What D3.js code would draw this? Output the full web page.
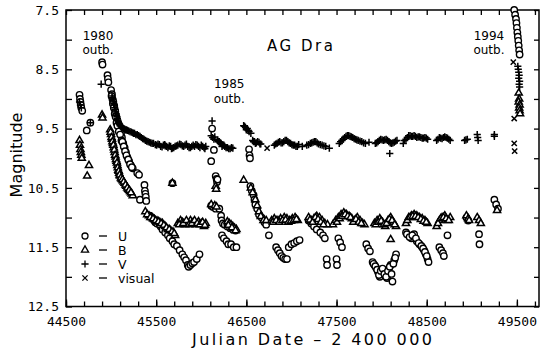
<!DOCTYPE html>
<html>
<head>
<meta charset="utf-8">
<script src="https://cdn.jsdelivr.net/npm/d3@7"></script>
<style>
  body { margin: 0; background: #fff; }
  text { font-family: "DejaVu Sans", sans-serif; fill: #000; }
</style>
</head>
<body>
<div id="chart"></div>
<script>
// light curve of AG Dra, [JD - 2400000, magnitude]
const U = [
  [44650, 8.93], [44655, 9.0], [44660, 9.05], [44665, 9.1], [44670, 9.15], [44680, 9.2],
  [44730, 9.53], [44770, 9.4],
  [44900, 8.38], [44905, 8.42], [44960, 8.6], [44965, 8.66], [44970, 8.72],
  [45000, 8.85], [45010, 8.92], [45015, 9.0], [45025, 9.05], [45035, 9.12], [45045, 9.2],
  [45055, 9.28], [45065, 9.35], [45080, 9.42], [45095, 9.5], [45110, 9.58], [45120, 9.65],
  [45135, 9.75], [45150, 9.82], [45165, 9.9], [45180, 9.98], [45200, 10.05], [45220, 10.12],
  [45240, 10.17], [45290, 10.25], [45310, 10.28],
  [45005, 8.95], [45020, 9.08], [45030, 9.15], [45040, 9.25], [45050, 9.3], [45060, 9.4],
  [45070, 9.45], [45085, 9.55], [45100, 9.6], [45115, 9.7], [45125, 9.72], [45140, 9.8],
  [45155, 9.88], [45170, 9.95], [45190, 10.02], [45210, 10.1], [45230, 10.15],
  [45320, 10.7], [45370, 10.45], [45375, 10.55], [45380, 10.6], [45385, 10.65], [45390, 10.72],
  [45430, 10.97], [45460, 11.02], [45490, 11.08], [45520, 11.1], [45550, 11.15], [45580, 11.18],
  [45610, 11.22], [45640, 11.27], [45660, 11.33],
  [45450, 11.0], [45480, 11.05], [45510, 11.1], [45540, 11.12], [45570, 11.2], [45600, 11.25],
  [45630, 11.3], [45650, 11.35], [45680, 11.4], [45700, 11.45], [45730, 11.48], [45760, 11.55],
  [45790, 11.62], [45810, 11.67], [45830, 11.72], [45850, 11.8], [45860, 11.83], [45880, 11.8],
  [45900, 11.77], [45920, 11.75], [45950, 11.7], [45980, 11.62], [45680, 10.42],
  [46110, 10.05], [46120, 9.5], [46140, 9.86], [46160, 10.3], [46170, 10.35], [46175, 10.4], [46180, 10.36],
  [46110, 10.8], [46130, 10.82], [46160, 10.85], [46200, 10.85], [46220, 10.97], [46225, 11.05],
  [46240, 11.1], [46260, 11.12], [46290, 11.15], [46320, 11.18], [46350, 11.2], [46380, 11.22],
  [46230, 11.3], [46250, 11.35], [46280, 11.4], [46300, 11.45], [46330, 11.45], [46360, 11.5], [46390, 11.5],
  [46530, 9.85], [46535, 9.95], [46540, 10.0],
  [46545, 10.47], [46560, 10.55], [46580, 10.62], [46590, 10.7], [46600, 10.78], [46620, 10.85],
  [46640, 10.95], [46670, 11.0], [46700, 11.08], [46720, 11.12], [46750, 11.3],
  [46830, 11.5], [46850, 11.55], [46870, 11.6], [46890, 11.65], [46910, 11.68], [46930, 11.7], [46950, 11.7],
  [46970, 11.5], [47000, 11.45], [47030, 11.43], [47060, 11.4], [47090, 11.38],
  [47190, 11.05], [47220, 11.1], [47250, 11.15], [47280, 11.2], [47320, 11.25], [47350, 11.3], [47370, 11.35],
  [47390, 11.7], [47395, 11.8], [47500, 11.7], [47505, 11.8],
  [47520, 11.35], [47540, 11.42], [47560, 11.5],
  [47830, 11.45], [47850, 11.52], [47870, 11.57],
  [47900, 11.75], [47920, 11.8], [47940, 11.85], [47960, 11.92], [47980, 12.0], [48000, 11.93],
  [48020, 11.88], [48040, 11.96], [48060, 12.02], [48080, 11.86], [48100, 11.8], [48120, 12.08],
  [48140, 11.72], [48160, 11.62],
  [47910, 11.78], [47930, 11.82], [47950, 11.88], [47970, 11.97], [47990, 11.9], [48010, 11.86],
  [48030, 11.95], [48050, 12.0], [48070, 11.9], [48090, 11.83], [48110, 11.95], [48130, 11.78], [48150, 11.68],
  [48270, 11.25], [48300, 11.3], [48330, 11.35], [48360, 11.28], [48390, 11.4], [48420, 11.45],
  [48450, 11.5], [48470, 11.55], [48490, 11.62], [48510, 11.7], [48520, 11.75],
  [48280, 11.28], [48310, 11.33], [48340, 11.3], [48380, 11.35], [48410, 11.43], [48440, 11.48],
  [48460, 11.52], [48480, 11.58], [48500, 11.65],
  [48640, 11.5], [48660, 11.55], [48680, 11.6], [48690, 11.65], [48730, 11.3],
  [48940, 11.0], [48960, 11.05], [49080, 11.28], [49085, 11.45],
  [49250, 10.7], [49270, 10.78], [49290, 10.85],
  [49470, 7.5], [49480, 7.58], [49490, 7.65], [49495, 7.72], [49500, 7.8], [49505, 7.88],
  [49510, 7.95], [49515, 8.02], [49520, 8.1], [49525, 8.18], [49530, 8.25]
];

const B = [
  [44650, 9.7], [44655, 9.78], [44660, 9.85], [44665, 9.9], [44670, 9.95], [44675, 10.0],
  [44735, 10.3], [44755, 10.12], [44900, 9.27], [44905, 9.32],
  [44990, 9.52], [45000, 9.6], [45010, 9.68], [45020, 9.75], [45030, 9.82], [45040, 9.9],
  [45050, 9.98], [45060, 10.05], [45070, 10.12], [45080, 10.2], [45090, 10.25], [45100, 10.3],
  [45115, 10.35], [45130, 10.38], [45150, 10.42], [45170, 10.47], [45190, 10.52], [45210, 10.56],
  [45230, 10.6], [45240, 10.63],
  [44995, 9.56], [45005, 9.65], [45015, 9.72], [45025, 9.78], [45035, 9.86], [45045, 9.95],
  [45055, 10.02], [45065, 10.08], [45075, 10.16], [45085, 10.22], [45095, 10.28], [45110, 10.33],
  [45125, 10.36], [45140, 10.4], [45160, 10.45], [45180, 10.5], [45200, 10.54], [45220, 10.58],
  [45380, 10.9], [45420, 10.97], [45450, 11.0], [45480, 11.03], [45510, 11.06], [45540, 11.08],
  [45570, 11.1], [45600, 11.15], [45630, 11.2], [45660, 11.22], [45690, 11.25], [45710, 11.3],
  [45400, 10.95], [45435, 11.0], [45465, 11.02], [45495, 11.05], [45525, 11.07], [45555, 11.1],
  [45585, 11.13], [45615, 11.17], [45645, 11.2], [45675, 11.24], [45700, 11.27],
  [45680, 10.42],
  [45740, 11.1], [45770, 11.05], [45790, 11.08], [45820, 11.12], [45850, 11.1], [45880, 11.05],
  [45910, 11.08], [45940, 11.12], [45970, 11.07], [46000, 11.1], [46030, 11.15], [46050, 11.1],
  [45755, 11.12], [45800, 11.1], [45835, 11.05], [45865, 11.12], [45895, 11.1], [45925, 11.05],
  [45955, 11.1], [45985, 11.12], [46015, 11.08], [46040, 11.13],
  [46160, 10.47], [46165, 10.52], [46110, 10.78], [46150, 10.8], [46170, 10.82],
  [46290, 11.07], [46310, 11.1], [46330, 11.12], [46350, 11.15], [46370, 11.18], [46390, 11.2],
  [46300, 11.13], [46340, 11.17], [46380, 11.22],
  [46470, 10.37], [46550, 10.5], [46570, 10.58], [46600, 10.7], [46620, 10.8], [46640, 10.9],
  [46660, 10.98], [46690, 11.05], [46720, 11.05],
  [46780, 11.05], [46810, 11.02], [46850, 11.05], [46880, 11.02], [46920, 11.0], [46950, 11.02],
  [46980, 11.05], [47010, 11.02], [47040, 11.0], [47070, 11.05],
  [46795, 11.08], [46830, 11.05], [46865, 11.08], [46900, 11.05], [46935, 11.04], [46965, 11.08],
  [46995, 11.06], [47025, 11.05], [47055, 11.03],
  [47190, 11.0], [47220, 11.05], [47250, 11.02], [47280, 10.98], [47310, 11.0], [47340, 11.05],
  [47370, 11.1], [47400, 11.12],
  [47205, 11.04], [47235, 11.08], [47265, 11.0], [47295, 11.03], [47325, 11.08], [47355, 11.12],
  [47460, 11.12], [47490, 11.05], [47520, 11.0], [47550, 10.95], [47580, 10.92], [47610, 10.95],
  [47640, 10.98], [47670, 11.02], [47700, 11.05], [47730, 11.0], [47760, 11.05], [47790, 11.1], [47810, 11.12],
  [47505, 11.08], [47535, 11.02], [47565, 10.98], [47595, 10.95], [47625, 10.98], [47655, 11.0],
  [47685, 11.08], [47715, 11.03], [47745, 11.08], [47775, 11.1],
  [47920, 11.1], [47950, 11.05], [47980, 11.02], [48010, 11.08], [48040, 11.15], [48070, 11.05],
  [48100, 11.0], [48130, 11.08], [48160, 11.15], [48100, 11.37],
  [47935, 11.12], [47965, 11.08], [47995, 11.06], [48025, 11.12], [48055, 11.1], [48085, 11.03],
  [48115, 11.05], [48145, 11.12],
  [48270, 11.1], [48300, 11.0], [48330, 10.97], [48360, 10.95], [48390, 10.97], [48420, 11.0],
  [48450, 11.02], [48480, 11.05], [48510, 11.1],
  [48285, 11.05], [48315, 11.0], [48345, 10.98], [48375, 10.98], [48405, 11.0], [48435, 11.03],
  [48465, 11.06], [48495, 11.08],
  [48610, 11.15], [48640, 11.05], [48670, 11.0], [48700, 10.97], [48730, 11.05], [48760, 11.0],
  [48625, 11.1], [48655, 11.02], [48685, 11.0], [48715, 11.02], [48745, 11.05],
  [48940, 10.97], [48960, 11.02], [48970, 11.05], [49060, 11.0], [49080, 11.05], [49100, 11.1],
  [49280, 10.88],
  [49520, 8.9], [49525, 9.0], [49520, 9.05], [49530, 9.1], [49525, 9.15], [49530, 9.2], [49535, 9.25]
];

const V = [
  [44650, 9.05], [44660, 9.1], [44670, 9.15], [44770, 9.4], [44890, 8.75],
  [45010, 8.95], [45020, 9.0], [45030, 9.08], [45040, 9.15], [45050, 9.22], [45060, 9.28],
  [45070, 9.33], [45080, 9.38], [45090, 9.42], [45100, 9.45], [45120, 9.48], [45140, 9.5],
  [45160, 9.52], [45180, 9.53], [45210, 9.55], [45240, 9.57], [45260, 9.58], [45290, 9.6],
  [45320, 9.63], [45350, 9.67], [45380, 9.7], [45410, 9.72], [45440, 9.74], [45470, 9.75],
  [45490, 9.77], [45520, 9.76], [45550, 9.8], [45580, 9.78], [45600, 9.79], [45630, 9.82],
  [45660, 9.8], [45680, 9.83], [45710, 9.8], [45740, 9.78], [45760, 9.76], [45790, 9.79],
  [45820, 9.78], [45850, 9.8], [45880, 9.82], [45910, 9.78], [45940, 9.77], [45970, 9.8],
  [46000, 9.78], [46030, 9.82], [46050, 9.8],
  [45015, 8.98], [45025, 9.05], [45035, 9.1], [45045, 9.18], [45055, 9.25], [45065, 9.3],
  [45075, 9.36], [45085, 9.4], [45095, 9.43], [45110, 9.47], [45130, 9.49], [45150, 9.51],
  [45170, 9.52], [45195, 9.54], [45225, 9.56], [45250, 9.58], [45275, 9.6], [45305, 9.62],
  [45335, 9.65], [45365, 9.68], [45395, 9.71], [45425, 9.73], [45455, 9.75], [45505, 9.78],
  [45535, 9.77], [45565, 9.81], [45595, 9.77], [45615, 9.8], [45645, 9.79], [45670, 9.84],
  [45695, 9.82], [45725, 9.79], [45775, 9.77], [45805, 9.8], [45835, 9.76], [45865, 9.82],
  [45895, 9.8], [45925, 9.8], [45955, 9.78], [45985, 9.82], [46015, 9.8], [46040, 9.84],
  [46120, 9.37], [46110, 9.62], [46125, 9.65], [46140, 9.68], [46150, 9.64], [46180, 9.7],
  [46200, 9.72], [46220, 9.75], [46240, 9.78], [46260, 9.8], [46290, 9.82], [46320, 9.84], [46350, 9.83],
  [46190, 9.72], [46210, 9.74], [46230, 9.8], [46250, 9.78], [46275, 9.82], [46305, 9.84], [46335, 9.82],
  [46470, 9.45], [46490, 9.48], [46510, 9.5], [46530, 9.55], [46550, 9.58], [46570, 9.7],
  [46590, 9.72], [46610, 9.74], [46640, 9.73], [46660, 9.76],
  [46480, 9.46], [46500, 9.52], [46520, 9.53], [46580, 9.72], [46600, 9.75], [46625, 9.72], [46650, 9.76],
  [46810, 9.78], [46840, 9.75], [46870, 9.72], [46900, 9.74], [46930, 9.7], [46960, 9.72],
  [46990, 9.75], [47020, 9.78], [47050, 9.8], [47080, 9.77],
  [46825, 9.76], [46855, 9.73], [46885, 9.74], [46915, 9.72], [46945, 9.7], [46975, 9.74],
  [47005, 9.77], [47035, 9.78], [47065, 9.8],
  [47120, 9.8], [47170, 9.78], [47210, 9.75], [47240, 9.73], [47270, 9.72], [47300, 9.76],
  [47340, 9.78], [47380, 9.8], [47420, 9.83],
  [47190, 9.77], [47225, 9.74], [47255, 9.72], [47285, 9.74], [47320, 9.77], [47360, 9.79],
  [47530, 9.75], [47560, 9.7], [47590, 9.65], [47620, 9.62], [47650, 9.63], [47680, 9.65],
  [47710, 9.68], [47740, 9.7], [47780, 9.72], [47820, 9.75], [47860, 9.73],
  [47545, 9.72], [47575, 9.68], [47605, 9.63], [47635, 9.62], [47665, 9.64], [47695, 9.67],
  [47725, 9.69], [47760, 9.71], [47800, 9.74],
  [47930, 9.75], [47960, 9.72], [47990, 9.68], [48020, 9.7], [48050, 9.68], [48080, 9.72],
  [48110, 9.75], [48140, 9.73], [48170, 9.7], [48090, 9.92],
  [47945, 9.74], [47975, 9.7], [48005, 9.69], [48035, 9.69], [48065, 9.7], [48095, 9.74],
  [48125, 9.74], [48155, 9.71],
  [48240, 9.75], [48270, 9.68], [48300, 9.62], [48330, 9.63], [48360, 9.62], [48390, 9.65],
  [48420, 9.64], [48450, 9.66], [48480, 9.65], [48510, 9.68],
  [48255, 9.7], [48285, 9.65], [48315, 9.62], [48345, 9.63], [48375, 9.63], [48405, 9.64],
  [48435, 9.65], [48465, 9.66], [48495, 9.66],
  [48610, 9.7], [48640, 9.65], [48670, 9.67], [48700, 9.64], [48730, 9.66], [48760, 9.7],
  [48625, 9.68], [48655, 9.66], [48685, 9.65], [48715, 9.65], [48745, 9.68],
  [48920, 9.7], [48950, 9.68], [48935, 9.69], [49060, 9.6], [49065, 9.65], [49070, 9.7],
  [49250, 9.6], [49250, 9.63],
  [49510, 8.45], [49515, 8.5], [49520, 8.55], [49525, 8.6], [49520, 8.65], [49530, 8.7],
  [49525, 8.75], [49530, 8.8]
];

const VISUAL = [
  [46730, 9.83], [49460, 8.38], [49470, 9.33], [49470, 9.75], [49475, 9.88]
];

const xLabels = [44500, 45500, 46500, 47500, 48500, 49500];
const yLabels = [7.5, 8.5, 9.5, 10.5, 11.5, 12.5];

const notes = [
  { x: 44855, y: 8.0, lines: ["1980", "outb."] },
  { x: 46310, y: 8.82, lines: ["1985", "outb."] },
  { x: 49190, y: 8.0, lines: ["1994", "outb."] }
];

const margin = {top: 10, right: 3, bottom: 43.5, left: 66};
const width = 542 - margin.left - margin.right;
const height = 350 - margin.top - margin.bottom;

const svg = d3.select("#chart").append("svg")
    .attr("width", 542).attr("height", 350);
const g = svg.append("g")
    .attr("transform", "translate(" + margin.left + "," + margin.top + ")");

const x = d3.scaleLinear().domain([44500, 49745]).range([0, width]);
const y = d3.scaleLinear().domain([7.5, 12.5]).range([0, height]);

const xMinor = d3.range(44500, 49746, 200);
const yMinor = d3.range(7.5, 12.51, 0.5);

// frame
g.append("rect").attr("width", width).attr("height", height)
  .attr("fill", "none").attr("stroke", "#000").attr("stroke-width", 1.5);

function tickStyle(sel) {
  sel.select(".domain").remove();
  sel.selectAll(".tick line").attr("stroke", "#000").attr("stroke-width", 1.3);
}

g.append("g").attr("transform", "translate(0," + height + ")")
  .call(d3.axisBottom(x).tickValues(xMinor).tickSize(-5).tickFormat(""))
  .call(tickStyle);
g.append("g")
  .call(d3.axisTop(x).tickValues(xMinor).tickSize(-5).tickFormat(""))
  .call(tickStyle);
g.append("g")
  .call(d3.axisLeft(y).tickValues(yMinor).tickSize(-6).tickFormat(""))
  .call(tickStyle);
g.append("g").attr("transform", "translate(" + width + ",0)")
  .call(d3.axisRight(y).tickValues(yMinor).tickSize(-5).tickFormat(""))
  .call(tickStyle);

// tick labels
g.append("g").attr("transform", "translate(0," + height + ")")
  .call(d3.axisBottom(x).tickValues(xLabels).tickSize(-7).tickPadding(10).tickFormat(d3.format("d")))
  .call(tickStyle)
  .selectAll("text").style("font-size", "13px").style("font-family", "DejaVu Sans Mono, monospace")
  .attr("fill", "#000");
g.append("g")
  .call(d3.axisLeft(y).tickValues(yLabels).tickSize(0).tickPadding(7).tickFormat(d3.format(".1f")))
  .call(tickStyle)
  .selectAll("text").style("font-size", "13px").style("font-family", "DejaVu Sans Mono, monospace")
  .attr("fill", "#000");

// axis titles
svg.append("text").attr("x", 312).attr("y", 345).attr("text-anchor", "middle")
  .attr("textLength", 240).attr("lengthAdjust", "spacing")
  .style("font-size", "16px").text("Julian Date \u2013 2 400 000");
svg.append("text").attr("transform", "translate(22,155) rotate(-90)")
  .attr("text-anchor", "middle").style("font-size", "16px").text("Magnitude");

// title and outburst notes
svg.append("text").attr("x", 300).attr("y", 51).attr("text-anchor", "middle")
  .attr("textLength", 66).attr("lengthAdjust", "spacing")
  .style("font-size", "15px").text("AG Dra");

notes.forEach(n => {
  n.lines.forEach((t, i) => {
    g.append("text").attr("x", x(n.x)).attr("y", y(n.y) + i * 14.5)
      .attr("text-anchor", "middle").style("font-size", "12px").text(t);
  });
});

// markers
const shapes = {
  B: d3.symbol(d3.symbolTriangle, 22)(),
  V: "M-3.6,0H3.6M0,-3.6V3.6",
  X: "M-2.6,-2.6L2.6,2.6M-2.6,2.6L2.6,-2.6"
};

g.append("g").selectAll("circle").data(U).enter().append("circle")
  .attr("cx", d => x(d[0])).attr("cy", d => y(d[1])).attr("r", 3.2)
  .attr("fill", "#fff").attr("stroke", "#000").attr("stroke-width", 1.4);

[[B, shapes.B, "#fff"], [V, shapes.V, "none"], [VISUAL, shapes.X, "none"]].forEach(s => {
  g.append("g").selectAll("path").data(s[0]).enter().append("path")
    .attr("d", s[1])
    .attr("transform", d => "translate(" + x(d[0]) + "," + y(d[1]) + ")")
    .attr("fill", s[2]).attr("stroke", "#000").attr("stroke-width", 1.5);
});

// legend
const legend = [["o", "U"], ["tri", "B"], ["plus", "V"], ["x", "visual"]];
const lg = svg.append("g").attr("transform", "translate(85,236)");
legend.forEach((l, i) => {
  const row = lg.append("g").attr("transform", "translate(0," + (i * 14) + ")");
  if (l[0] === "o") row.append("circle").attr("r", 3).attr("fill", "#fff").attr("stroke", "#000").attr("stroke-width", 1.3);
  else row.append("path").attr("d", l[0] === "tri" ? shapes.B : l[0] === "plus" ? shapes.V : shapes.X)
    .attr("fill", "none").attr("stroke", "#000").attr("stroke-width", 1.3);
  row.append("line").attr("x1", 14).attr("x2", 22).attr("stroke", "#000").attr("stroke-width", 1.3);
  row.append("text").attr("x", 33).attr("y", 4.5).style("font-size", "12.5px").text(l[1]);
});
</script>
</body>
</html>
